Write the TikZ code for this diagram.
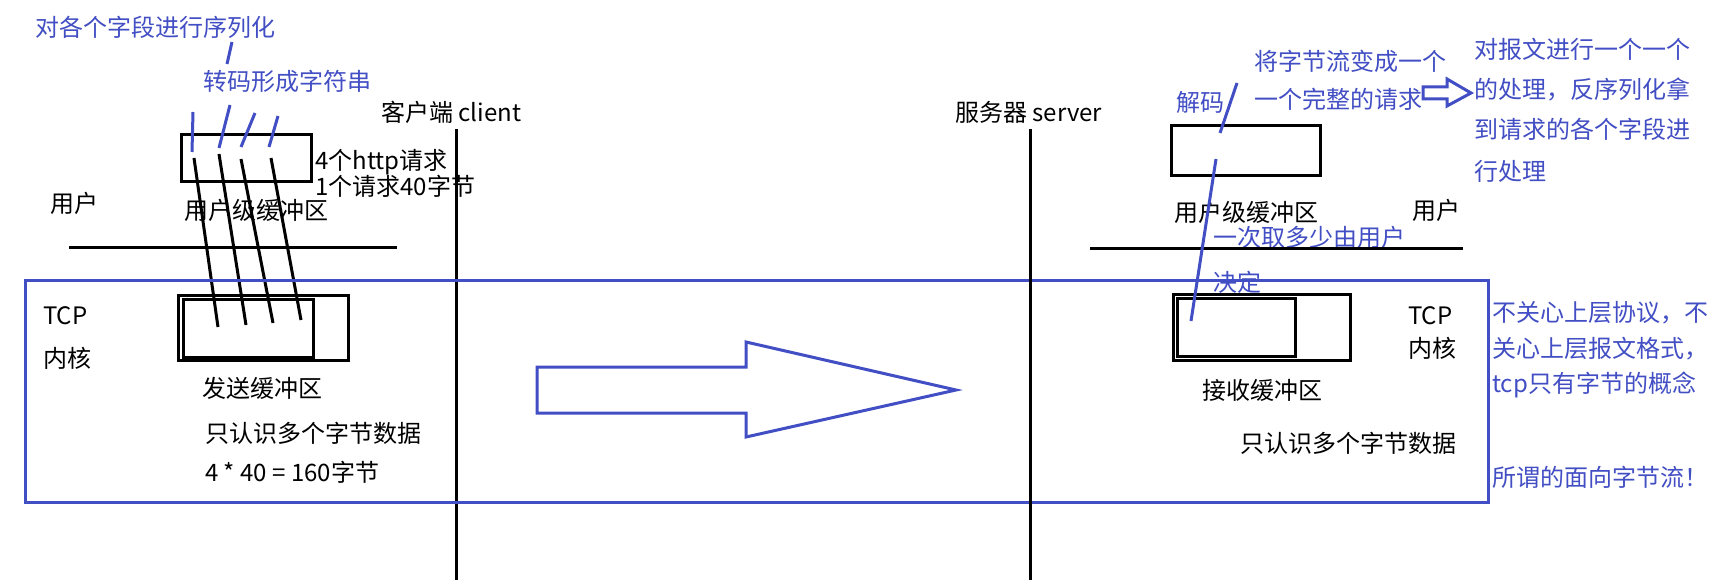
\documentclass[tikz,border=0pt]{standalone}
\usepackage{fontspec}
\setmainfont{Noto Sans CJK SC}
\definecolor{myblue}{RGB}{66,78,196}
\begin{document}
\begin{tikzpicture}[x=1pt,y=-1pt,
  txt/.style={font=\fontsize{24}{28}\selectfont, inner sep=0pt, anchor=west, text height=21pt, text depth=3pt},
  btxt/.style={txt, text=myblue},
  blk/.style={line width=3pt},
  bstroke/.style={draw=myblue, line width=3pt},
  bbox/.style={draw=myblue, line width=3pt},
]
\useasboundingbox[fill=white] (0,0) rectangle (1712,580);

% ---------- client side ----------
\node[btxt] (ser) at (35,28) {对各个字段进行序列化};
\node[btxt] (enc) at (203,82) {转码形成字符串};
\node[txt] (cli) at (381,113) {客户端 client};
\node[txt] (r1) at (315,161) {4个http请求};
\node[txt] (r2) at (315,187) {1个请求40字节};
\node[txt] (uL) at (50,203) {用户};
\node[txt] (ubufL) at (184,210) {用户级缓冲区};
\node[txt] (tcpL) at (43,315) {TCP};
\node[txt] (kerL) at (43,358) {内核};
\node[txt] (sendL) at (202,388) {发送缓冲区};
\node[txt] (onlyL) at (205,433) {只认识多个字节数据};
\node[txt] (calc) at (205,472) {4 * 40 = 160字节};

% user buffer (client)
\draw[blk] (181,135) rectangle (311,182);
% send buffer
\draw[blk] (178.5,295.5) rectangle (348.5,360.5);
\draw[blk] (183.5,299.5) rectangle (313,357);

% user / kernel separator
\coordinate (hl1) at (69,247);
\coordinate (hl2) at (397,247);
\draw[blk] (hl1) -- (hl2);

% client timeline
\coordinate (ct) at (456,129);
\coordinate (cb) at (456,580);
\draw[blk] (ct) -- (cb);

% blue strokes
\coordinate (s1a) at (232,42); \coordinate (s1b) at (227,64);
\draw[bstroke] (s1a) -- (s1b);
\coordinate (e1a) at (193,112); \coordinate (e1b) at (192,152);
\coordinate (e2a) at (230,105); \coordinate (e2b) at (219,148);
\coordinate (e3a) at (255,113); \coordinate (e3b) at (241,147);
\coordinate (e4a) at (278,116); \coordinate (e4b) at (269,147);
\draw[bstroke] (e1a) -- (e1b);
\draw[bstroke] (e2a) -- (e2b);
\draw[bstroke] (e3a) -- (e3b);
\draw[bstroke] (e4a) -- (e4b);

% black strokes into send buffer
\coordinate (k1a) at (194,158); \coordinate (k1b) at (218,327);
\coordinate (k2a) at (219,154); \coordinate (k2b) at (246,325);
\coordinate (k3a) at (241,159); \coordinate (k3b) at (273,323);
\coordinate (k4a) at (271,158); \coordinate (k4b) at (301,320);
\draw[blk] (k1a) -- (k1b);
\draw[blk] (k2a) -- (k2b);
\draw[blk] (k3a) -- (k3b);
\draw[blk] (k4a) -- (k4b);

% ---------- kernel frame ----------
\draw[bbox] (25,280) rectangle (1488,502);

% big hollow arrow
\draw[bbox, line join=miter] (537,367) -- (746,367) -- (746,342) -- (956,390) -- (746,437) -- (746,413) -- (537,413) -- cycle;

% ---------- server side ----------
\node[txt] (srv) at (955,113) {服务器 server};
\node[btxt] (dec) at (1176,103) {解码};
\node[btxt] (bs1) at (1254,62) {将字节流变成一个};
\node[btxt] (bs2) at (1254,100) {一个完整的请求};
\node[btxt] (p1) at (1474,50) {对报文进行一个一个};
\node[btxt] (p2) at (1474,90) {的处理，反序列化拿};
\node[btxt] (p3) at (1474,130) {到请求的各个字段进};
\node[btxt] (p4) at (1474,172) {行处理};
\node[txt] (ubufR) at (1174,212) {用户级缓冲区};
\node[txt] (uR) at (1412,210) {用户};
\node[btxt] (take1) at (1213,237) {一次取多少由用户};
\node[btxt] (take2) at (1213,282) {决定};
\node[txt] (tcpR) at (1408,315) {TCP};
\node[txt] (kerR) at (1408,348) {内核};
\node[txt] (recvR) at (1202,390) {接收缓冲区};
\node[txt] (onlyR) at (1240,443) {只认识多个字节数据};
\node[btxt] (n1) at (1492,312) {不关心上层协议，不};
\node[btxt] (n2) at (1492,348) {关心上层报文格式，};
\node[btxt] (n3) at (1492,383) {tcp只有字节的概念};
\node[btxt] (n4) at (1492,477) {所谓的面向字节流！};

% server timeline
\coordinate (st) at (1030,129);
\coordinate (sb) at (1030,580);
\draw[blk] (st) -- (sb);

% server separator
\coordinate (hr1) at (1090,248);
\coordinate (hr2) at (1463,248);
\draw[blk] (hr1) -- (hr2);

% user buffer (server)
\draw[blk] (1171,126) rectangle (1320,176);
% receive buffer
\draw[blk] (1173.5,294.5) rectangle (1350.5,360.5);
\draw[blk] (1177.5,298) rectangle (1295,356);

% blue strokes (server)
\coordinate (d1a) at (1237,83); \coordinate (d1b) at (1220,133);
\draw[bstroke] (d1a) -- (d1b);
\coordinate (d2a) at (1216,159); \coordinate (d2b) at (1191,321);
\draw[bstroke] (d2a) -- (d2b);

% small hollow arrow
\draw[bbox, line join=miter] (1423,87) -- (1447,87) -- (1447,79) -- (1471,93) -- (1447,106) -- (1447,99) -- (1423,99) -- cycle;
\end{tikzpicture}
\end{document}
